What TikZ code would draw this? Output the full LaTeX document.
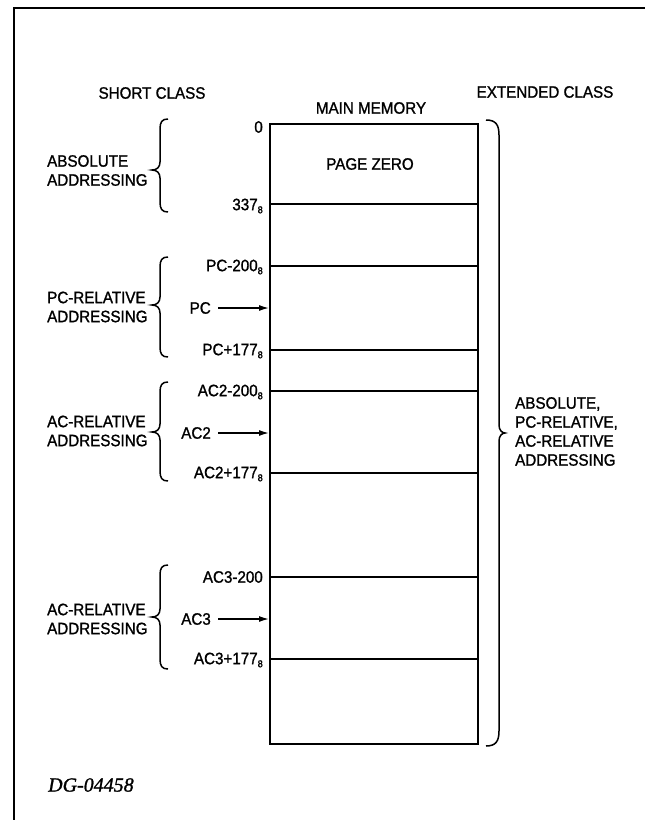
\documentclass[tikz,border=0pt]{standalone}
\usepackage{fontspec}
\setmainfont{Liberation Sans}[FakeStretch=0.92,FakeBold=1.2]
\newfontfamily\dgfont{Liberation Serif}[FakeBold=1.2]
\usetikzlibrary{arrows.meta}
\newcommand\eight{\raisebox{-0.35ex}{\fontsize{10}{10}\selectfont 8}}
\newcommand\mybraceL[4]{%
  \draw[brc] (#1+8,#2) .. controls (#1+2,#2) and (#1,#2+3) .. (#1,#2+10)
    -- (#1,#3-8) .. controls (#1,#3-3) and (#1-3,#3) .. (#1-8,#3)
    .. controls (#1-3,#3) and (#1,#3+3) .. (#1,#3+8)
    -- (#1,#4-10) .. controls (#1,#4-3) and (#1+2,#4) .. (#1+8,#4);}
\newcommand\mybraceR[4]{%
  \draw[brc] (#1-13,#2) .. controls (#1-3,#2) and (#1,#2+5) .. (#1,#2+15)
    -- (#1,#3-8) .. controls (#1,#3-3) and (#1+3,#3) .. (#1+6,#3)
    .. controls (#1+3,#3) and (#1,#3+3) .. (#1,#3+8)
    -- (#1,#4-15) .. controls (#1,#4-5) and (#1-3,#4) .. (#1-13,#4);}
\begin{document}
\begin{tikzpicture}[x=1pt,y=-1pt,
  txt/.style={inner sep=0pt,font=\fontsize{16.5}{19}\selectfont},
  lbl/.style={txt,anchor=east},
  grp/.style={txt,anchor=west,align=left},
  brc/.style={line width=1.5pt},
  memline/.style={line width=1.8pt},
  ptr/.style={line width=1.4pt,-{Latex[length=10pt,width=6pt]},shorten <=7pt}]
\useasboundingbox (0,0) rectangle (645,820);
\fill[white] (0,0) rectangle (645,820);
% frame
\draw[line width=1.5pt] (14,820) -- (14,8) -- (645,8);
% headings
\node[txt] (short) at (152,93) {SHORT CLASS};
\node[txt] (ext) at (545,92) {EXTENDED CLASS};
\node[txt] (mm) at (371,108) {MAIN MEMORY};
% memory box
\node[draw,memline,minimum width=208pt,minimum height=620pt,anchor=north west,inner sep=0pt] (mem) at (269,123) {};
\node[txt] (pz) at (370,164) {PAGE ZERO};
\foreach \yy in {204,266,350,391,473,577,659}
  \draw[memline] (mem.west |- 0,\yy) -- (mem.east |- 0,\yy);
% address labels
\node[lbl] (a0) at (263,127) {0};
\node[lbl] (a337) at (263,206) {337\eight};
\node[lbl] (pcm) at (263,267) {PC-200\eight};
\node[lbl] (pcp) at (263,351) {PC+177\eight};
\node[lbl] (acm) at (263,392) {AC2-200\eight};
\node[lbl] (acp) at (263,474) {AC2+177\eight};
\node[lbl] (a3m) at (263,577) {AC3-200};
\node[lbl] (a3p) at (263,660) {AC3+177\eight};
% pointers
\node[lbl] (pc) at (211,308) {PC};
\node[lbl] (ac2) at (211,433) {AC2};
\node[lbl] (ac3) at (211,619) {AC3};
\coordinate (pcT) at (269,308);
\coordinate (ac2T) at (269,433);
\coordinate (ac3T) at (269,619);
\draw[ptr] (pc.east) -- (pcT);
\draw[ptr] (ac2.east) -- (ac2T);
\draw[ptr] (ac3.east) -- (ac3T);
% left groups
\node[grp] (g1) at (47,170.5) {ABSOLUTE\\ADDRESSING};
\node[grp] (g2) at (47,307) {PC-RELATIVE\\ADDRESSING};
\node[grp] (g3) at (47,431) {AC-RELATIVE\\ADDRESSING};
\node[grp] (g4) at (47,619) {AC-RELATIVE\\ADDRESSING};
\mybraceL{160}{119}{170}{212}
\mybraceL{160}{257}{305}{357}
\mybraceL{160}{382}{432}{481}
\mybraceL{160}{565}{617}{669}
% right group
\mybraceR{499}{120}{433}{746}
\node[grp] (gr) at (515,431.5) {ABSOLUTE,\\PC-RELATIVE,\\AC-RELATIVE\\ADDRESSING};
% figure id
\node[inner sep=0pt,anchor=west,font=\dgfont\itshape\fontsize{20}{20}\selectfont] (dg) at (48,785) {DG-04458};
\end{tikzpicture}
\end{document}
